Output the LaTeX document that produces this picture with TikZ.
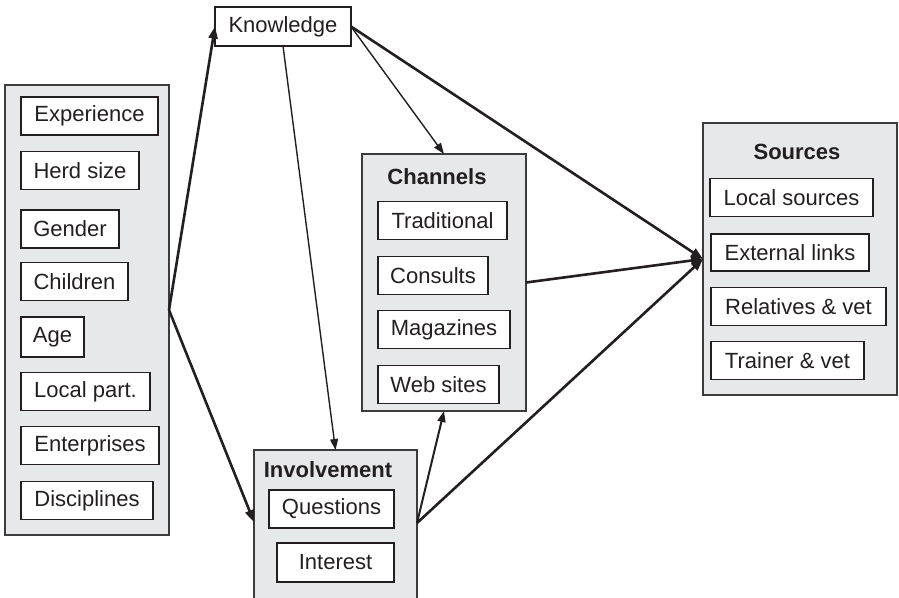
\documentclass[tikz,border=0pt]{standalone}
\usepackage{fontspec}
\setmainfont{Liberation Sans}
\usetikzlibrary{arrows.meta}
\definecolor{grpfill}{HTML}{E7E8E9}
\definecolor{ink}{HTML}{231F20}
\definecolor{edge}{HTML}{3C3C3C}
\tikzset{
  grp/.style={draw=edge, fill=grpfill, line width=1.6pt, inner sep=0pt, outer sep=0pt},
  item/.style={draw=ink, fill=white, line width=1.6pt, inner sep=0pt, outer sep=0pt,
    minimum height=38pt, text=ink, font=\fontsize{22}{26}\selectfont},
  title/.style={text=ink, font=\fontsize{22}{26}\selectfont\bfseries, inner sep=0pt},
  thickarrow/.style={draw=ink, line width=2.6pt, -{Triangle[length=12pt,width=9pt]}},
  thinarrow/.style={draw=ink, line width=1.4pt, -{Triangle[length=11pt,width=8pt]}},
  midarrow/.style={draw=ink, line width=2pt, -{Triangle[length=11pt,width=8pt]}},
}
\begin{document}
\begin{tikzpicture}[x=1pt,y=-1pt]
\useasboundingbox[fill=white] (0,0) rectangle (899,597);

% left group
\node[grp, minimum width=164pt, minimum height=450pt] (left) at (87,310) {};
\node[item, minimum width=137pt] (exp) at (89.5,116) {Experience};
\node[item, minimum width=118pt] (herd) at (80,170.5) {Herd size};
\node[item, minimum width=98pt] (gender) at (70,229) {Gender};
\node[item, minimum width=107pt] (child) at (74.5,281.5) {Children};
\node[item, minimum width=63pt, minimum height=40pt] (age) at (52.5,337) {Age};
\node[item, minimum width=129pt] (localp) at (85.5,391.5) {Local part.};
\node[item, minimum width=138pt] (enter) at (90,445.5) {Enterprises};
\node[item, minimum width=132pt] (disc) at (87,500.5) {Disciplines};

% knowledge
\node[item, minimum width=136pt, minimum height=39pt] (know) at (283,26.5) {Knowledge};

% channels
\node[grp, minimum width=164pt, minimum height=257pt] (chan) at (444,282.5) {};
\node[title] (chantitle) at (437,177) {Channels};
\node[item, minimum width=129pt] (trad) at (442.5,220.5) {Traditional};
\node[item, minimum width=110pt] (cons) at (433,275.5) {Consults};
\node[item, minimum width=132pt] (mag) at (444,329.5) {Magazines};
\node[item, minimum width=121pt] (web) at (438.5,384.5) {Web sites};

% sources
\node[grp, minimum width=194pt, minimum height=272pt] (src) at (800,259) {};
\node[title] (srctitle) at (797,152) {Sources};
\node[item, minimum width=163pt] (locs) at (791.5,197.5) {Local sources};
\node[item, minimum width=158pt, minimum height=37pt] (ext) at (790,252.5) {External links};
\node[item, minimum width=175pt] (rel) at (798.5,306.5) {Relatives \& vet};
\node[item, minimum width=153pt] (train) at (787.5,360.5) {Trainer \& vet};

% involvement
\node[grp, minimum width=163pt, minimum height=170pt] (inv) at (335.5,535) {};
\node[title] (invtitle) at (328,470) {Involvement};
\node[item, minimum width=125pt] (quest) at (331.5,509) {Questions};
\node[item, minimum width=117pt, minimum height=39pt] (inter) at (335.5,562.5) {Interest};

\coordinate (invL) at (254,522);
\coordinate (invR) at (417,523);

% connectors
\draw[thickarrow] (left.east) -- (know.west);
\draw[thickarrow] (left.east) -- (invL);
\draw[thinarrow] (know.south) -- (inv.north);
\draw[thinarrow] (know.east) -- (chan.north);
\draw[thickarrow] (know.east) -- (src.west);
\draw[thickarrow] (chan.east) -- (src.west);
\draw[midarrow] (invR) -- (chan.south);
\draw[thickarrow] (invR) -- (src.west);
\end{tikzpicture}
\end{document}
